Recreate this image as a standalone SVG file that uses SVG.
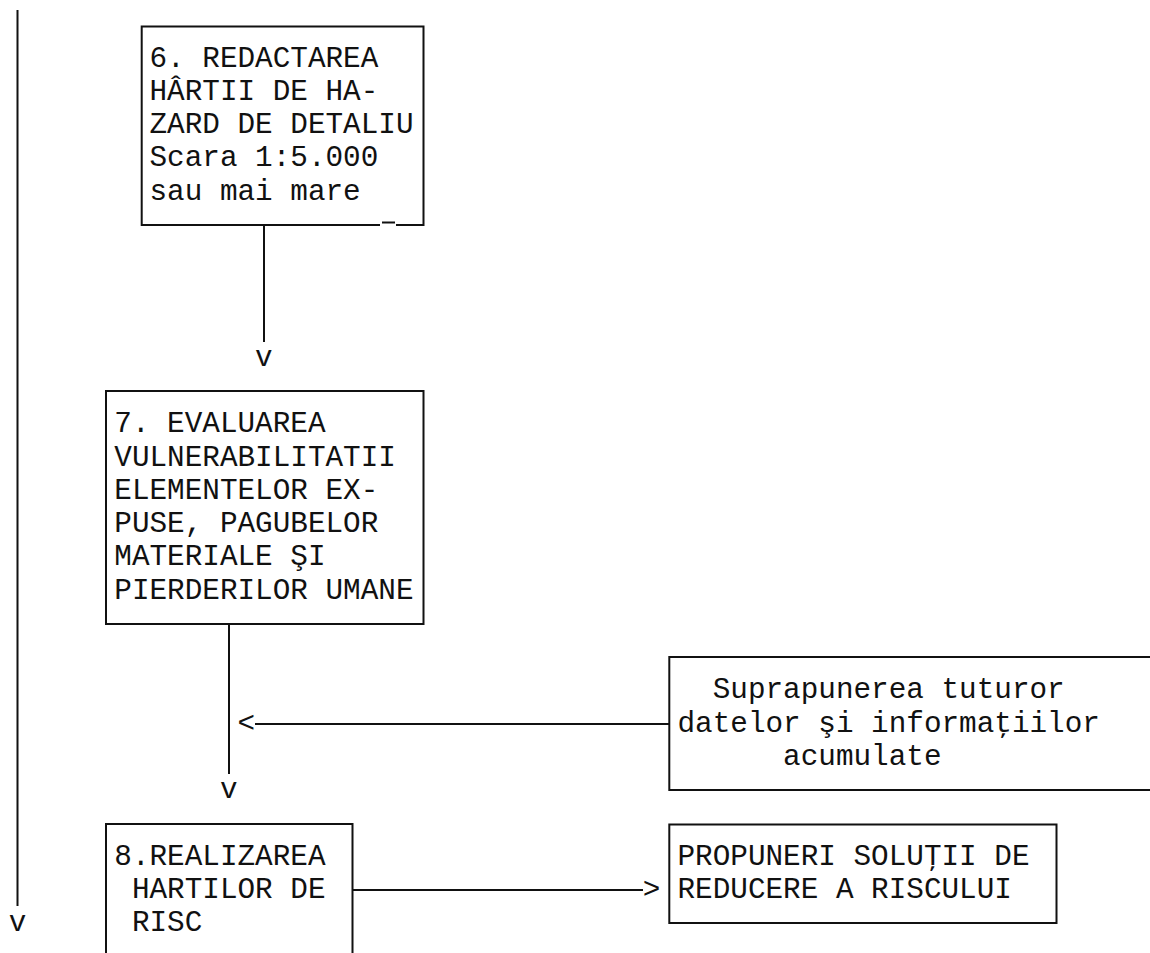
<svg xmlns="http://www.w3.org/2000/svg" width="1150" height="953" viewBox="0 0 1150 953">
<style>
  .t { font-family: "Liberation Mono", "Courier New", monospace; font-size: 29.33px; fill: #111; }
  .ln { stroke: #111; stroke-width: 2; fill: none; }
</style>
<rect width="1150" height="953" fill="#fff"/>
<g id="connectors">
  <line class="ln" x1="17.5" y1="10" x2="17.5" y2="906"/>
  <text class="t" x="8.7" y="931">v</text>
  <line class="ln" x1="264" y1="225" x2="264" y2="342"/>
  <text class="t" x="255.1" y="365.75">v</text>
  <line class="ln" x1="229" y1="624" x2="229" y2="774"/>
  <text class="t" x="219.9" y="798">v</text>
  <text class="t" x="237.5" y="731.5">&lt;</text>
  <line class="ln" x1="255" y1="724" x2="669.3" y2="724"/>
  <line class="ln" x1="352.5" y1="890" x2="643" y2="890"/>
  <text class="t" x="642.7" y="897.75">&gt;</text>
</g>
<g id="node6">
  <path class="ln" d="M380 225 H141.7 V26.5 H423.5 V225 H396"/>
  <line class="ln" x1="382" y1="222.5" x2="395" y2="222.5"/>
  <text class="t" x="149.5" y="66.5">6. REDACTAREA</text>
  <text class="t" x="149.5" y="99.75">HÂRTII DE HA-</text>
  <text class="t" x="149.5" y="133">ZARD DE DETALIU</text>
  <text class="t" x="149.5" y="166.25">Scara 1:5.000</text>
  <text class="t" x="149.5" y="199.5">sau mai mare</text>
</g>
<g id="node7">
  <rect class="ln" x="106" y="391" width="317.5" height="233"/>
  <text class="t" x="114.3" y="432.25">7. EVALUAREA</text>
  <text class="t" x="114.3" y="465.5">VULNERABILITATII</text>
  <text class="t" x="114.3" y="498.75">ELEMENTELOR EX-</text>
  <text class="t" x="114.3" y="532">PUSE, PAGUBELOR</text>
  <text class="t" x="114.3" y="565.25">MATERIALE ŞI</text>
  <text class="t" x="114.3" y="598.5">PIERDERILOR UMANE</text>
</g>
<g id="node-suprapunerea">
  <path class="ln" d="M1151 657 H669.3 V790 H1151"/>
  <text class="t" x="712.7" y="698.25">Suprapunerea tuturor</text>
  <text class="t" x="677.5" y="731.5">datelor şi informaţiilor</text>
  <text class="t" x="783.1" y="764.75">acumulate</text>
</g>
<g id="node8">
  <path class="ln" d="M106 954 V824 H352.5 V954"/>
  <text class="t" x="114.3" y="864.5">8.REALIZAREA</text>
  <text class="t" x="131.9" y="897.75">HARTILOR DE</text>
  <text class="t" x="131.9" y="931">RISC</text>
</g>
<g id="node-propuneri">
  <rect class="ln" x="669.3" y="824.5" width="387.2" height="98.5"/>
  <text class="t" x="677.5" y="864.5">PROPUNERI SOLUŢII DE</text>
  <text class="t" x="677.5" y="897.75">REDUCERE A RISCULUI</text>
</g>
</svg>
